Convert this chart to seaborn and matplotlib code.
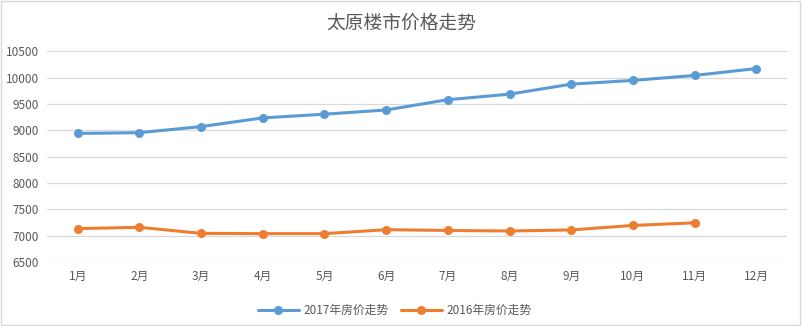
import matplotlib
matplotlib.use("Agg")
import matplotlib.pyplot as plt
import seaborn as sns
import pandas as pd

months = ["1月", "2月", "3月", "4月", "5月", "6月", "7月", "8月", "9月", "10月", "11月", "12月"]
price_2017 = [8940, 8955, 9070, 9235, 9305, 9385, 9580, 9685, 9875, 9945, 10040, 10170]
price_2016 = [7135, 7160, 7045, 7040, 7040, 7115, 7100, 7090, 7110, 7195, 7245, None]
series_names = ["2017年房价走势", "2016年房价走势"]
title = "太原楼市价格走势"

sns.set_theme(style="white")
plt.rcParams['font.family'] = ['Noto Sans CJK SC', 'DejaVu Sans']

rows = []
for i, m in enumerate(months):
    rows.append({"month": m, "idx": i, "price": price_2017[i], "series": series_names[0]})
    if price_2016[i] is not None:
        rows.append({"month": m, "idx": i, "price": price_2016[i], "series": series_names[1]})
df = pd.DataFrame(rows)

fig = plt.figure(figsize=(8.02, 3.26), dpi=100)
ax = fig.add_axes([0.0586, 0.196, 0.9227, 0.647])

palette = {series_names[0]: "#5B9BD5", series_names[1]: "#ED7D31"}
sns.lineplot(data=df, x="idx", y="price", hue="series", palette=palette,
             marker="o", markersize=6.5, linewidth=2.2, markeredgewidth=0, ax=ax,
             legend=True)

ax.set_xlim(-0.5, 11.5)
ax.set_ylim(6500, 10500)
ax.set_xticks(range(12))
ax.set_xticklabels(months)
ax.set_yticks(range(6500, 10501, 500))
ax.tick_params(axis="both", colors="#595959", labelsize=8.5, length=0, pad=6)
ax.yaxis.grid(True, color="#D9D9D9", linewidth=0.9)
ax.xaxis.grid(False)
for s in ax.spines.values():
    s.set_visible(False)
ax.set_xlabel("")
ax.set_ylabel("")

handles, labels = ax.get_legend_handles_labels()
ax.legend(handles, labels, loc="center", bbox_to_anchor=(0.47, -0.23), ncol=2,
          frameon=False, fontsize=8.5, labelcolor="#595959", handlelength=3.5,
          columnspacing=1.0, handletextpad=0.4)

fig.text(0.5, 0.93, title, ha="center", va="center", fontsize=13.5, color="#595959")

border = plt.Rectangle((0.001, 0.002), 0.997, 0.995, transform=fig.transFigure,
                       fill=False, edgecolor="#D9D9D9", linewidth=1)
fig.patches.append(border)

fig.savefig("out.png", dpi=100)
